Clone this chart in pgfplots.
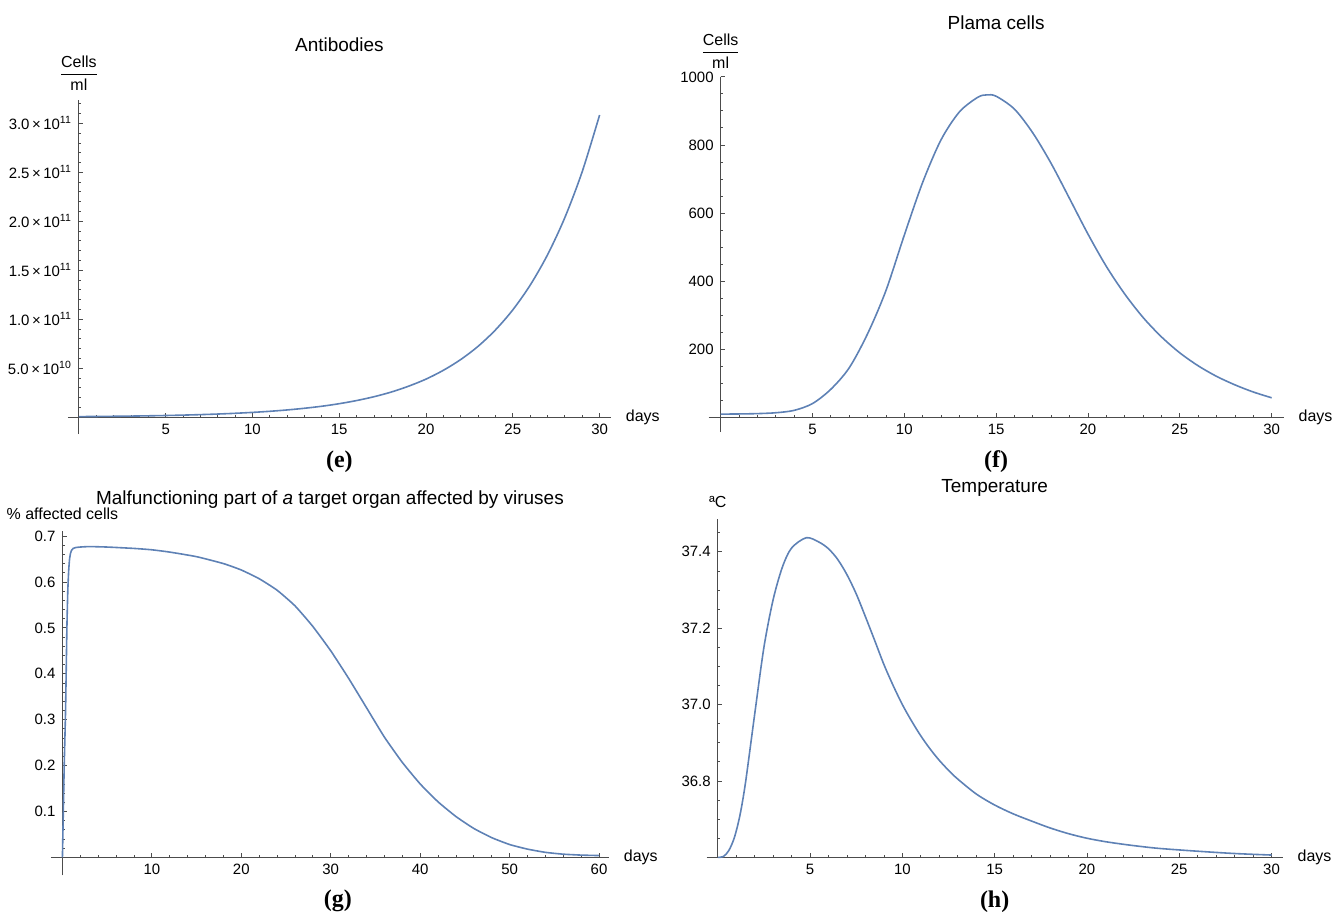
\documentclass[border=0pt]{standalone}
\usepackage{fontspec}
\usepackage{amsmath}
\usepackage{pgfplots}
\pgfplotsset{compat=1.18}
\setmainfont{Liberation Sans}
\newfontfamily\panelfont{Liberation Serif}

\definecolor{mmablue}{RGB}{94,129,181}

\pgfplotsset{
  mma/.style={
    scale only axis,
    anchor=south west,
    axis lines=middle,
    axis line style={-, black!70, line width=0.5pt},
    tick style={black!70, line width=0.4pt},
    tick align=inside,
    major tick length=2.2pt,
    minor tick length=1.3pt,
    ticklabel style={font=\fontsize{7.5}{8}\selectfont, text=black},
    /pgf/number format/assume math mode=true,
    /pgf/number format/1000 sep={},
    clip=false,
    title style={font=\fontsize{9.5}{10}\selectfont, anchor=center},
  },
  curve/.style={mmablue, line width=0.8pt, no markers},
}
\newcommand{\lbl}{\fontsize{8}{9}\selectfont}
\newcommand{\panel}[1]{\panelfont\bfseries\fontsize{12}{13}\selectfont(#1)}
\newcommand{\sci}[2]{\mbox{\fontsize{7.5}{8}\selectfont #1\,×\,10\textsuperscript{#2}}}

\begin{document}
\begin{tikzpicture}
\path (0,0) rectangle (669.5pt,459pt);

% (e) antibodies
\begin{axis}[mma,
  at={(34pt,241.5pt)}, width=272pt, height=167.5pt,
  xmin=-0.63, xmax=30.65, ymin=-0.173e11, ymax=3.24e11,
  xtick={5,10,...,30}, minor xtick={0,1,...,30},
  ytick={5e10,1e11,1.5e11,2e11,2.5e11,3e11},
  yticklabels={\sci{5.0}{10},\sci{1.0}{11},\sci{1.5}{11},\sci{2.0}{11},\sci{2.5}{11},\sci{3.0}{11}},
  minor ytick={1e10,2e10,3e10,4e10,6e10,7e10,8e10,9e10,1.1e11,1.2e11,1.3e11,1.4e11,1.6e11,1.7e11,1.8e11,1.9e11,2.1e11,2.2e11,2.3e11,2.4e11,2.6e11,2.7e11,2.8e11,2.9e11,3.1e11,3.2e11},
  scaled y ticks=false,
  title={Antibodies}, title style={at={(0.5,1)}, yshift=21.5pt},
]
\addplot[curve, smooth] table {
x y
0 0.062e10
1 0.076e10
2 0.094e10
3 0.115e10
4 0.142e10
5 0.174e10
6 0.214e10
7 0.264e10
8 0.324e10
9 0.399e10
10 0.491e10
11 0.603e10
12 0.742e10
13 0.913e10
14 1.12e10
15 1.38e10
16 1.70e10
17 2.09e10
18 2.57e10
19 3.17e10
20 3.89e10
21 4.79e10
22 5.89e10
23 7.24e10
24 8.91e10
25 1.096e11
26 1.348e11
27 1.658e11
28 2.039e11
29 2.508e11
30 3.085e11
};
\node[anchor=center, yshift=13.5pt] at (axis cs:0,3.24e11) {\lbl$\dfrac{\text{Cells}}{\text{ml}}$};
\node[anchor=west, xshift=4pt] at (axis cs:30.65,0) {\lbl days};
\node[anchor=center, inner sep=0pt, yshift=-14pt] at (axis description cs:0.5,0) {\panel{e}};
\end{axis}

% (f) plasma cells
\begin{axis}[mma,
  at={(355pt,242.5pt)}, width=288pt, height=178pt,
  xmin=-0.65, xmax=30.65, ymin=-44, ymax=1000,
  xtick={5,10,...,30}, minor xtick={0,1,...,30},
  ytick={200,400,...,1000}, minor ytick={50,100,...,1000},
  title={Plama cells}, title style={at={(0.5,1)}, yshift=21pt},
]
\addplot[curve, smooth] table {
x y
0 9
1 9.5
2 10.5
3 13
4 20
5 40
6 82
7 145
8 245
9 372
10 535
11 690
12 815
13 897
14 940
14.5 947
15 943
16 905
17 835
18 745
19 642
20 538
21 443
22 362
23 293
24 236
25 189
26 151
27 120
28 95
29 74
30 57
};
\node[anchor=center, yshift=13pt] at (axis cs:0,1000) {\lbl$\dfrac{\text{Cells}}{\text{ml}}$};
\node[anchor=west, xshift=4pt] at (axis cs:30.65,0) {\lbl days};
\node[anchor=center, inner sep=0pt, yshift=-15pt] at (axis description cs:0.5,0) {\panel{f}};
\end{axis}

% (g) malfunctioning part
\begin{axis}[mma,
  at={(25.5pt,20.5pt)}, width=279.5pt, height=172.5pt,
  xmin=-1.28, xmax=61.1, ymin=-0.039, ymax=0.711,
  xtick={10,20,...,60}, minor xtick={0,2,...,60},
  ytick={0.1,0.2,0.3,0.4,0.5,0.6,0.7},
  minor ytick={0.02,0.04,0.06,0.08,0.12,0.14,0.16,0.18,0.22,0.24,0.26,0.28,0.32,0.34,0.36,0.38,0.42,0.44,0.46,0.48,0.52,0.54,0.56,0.58,0.62,0.64,0.66,0.68,0.7},
  yticklabel style={/pgf/number format/.cd, fixed, precision=1},
  title={Malfunctioning part of \textit{a} target organ affected by viruses},
  title style={at={(0.5,1)}, yshift=9.5pt},
]
\addplot[curve, smooth, tension=0.3] table {
x y
0 0
0.1 0.10
0.2 0.20
0.35 0.32
0.5 0.50
0.6 0.58
0.7 0.625
0.8 0.65
0.9 0.662
1 0.668
1.2 0.673
1.5 0.675
2 0.676
3 0.677
5 0.676
8 0.673
10 0.670
12 0.665
15 0.655
18 0.640
20 0.626
22 0.607
24 0.582
26 0.548
28 0.503
30 0.450
32 0.390
34 0.326
36 0.262
38 0.207
40 0.160
42 0.121
44 0.089
46 0.063
48 0.043
50 0.028
52 0.018
54 0.011
56 0.007
58 0.005
60 0.004
};
\node[anchor=center, yshift=8.5pt] at (axis cs:0,0.711) {\lbl\% affected cells};
\node[anchor=west, xshift=4pt] at (axis cs:61.1,0) {\lbl days};
\node[anchor=center, inner sep=0pt, xshift=4pt, yshift=-13pt] at (axis description cs:0.5,0) {\panel{g}};
\end{axis}

% (h) temperature
\begin{axis}[mma,
  at={(354pt,29.5pt)}, width=288.5pt, height=169.5pt,
  xmin=-0.6, xmax=30.6, ymin=36.6, ymax=37.486,
  xtick={5,10,...,30}, minor xtick={0,1,...,30},
  ytick={36.8,37.0,37.2,37.4},
  minor ytick={36.65,36.7,36.75,36.85,36.9,36.95,37.05,37.1,37.15,37.25,37.3,37.35,37.45},
  yticklabel style={/pgf/number format/.cd, fixed, fixed zerofill, precision=1},
  title={Temperature}, title style={at={(0.5,1)}, yshift=9.5pt},
]
\addplot[curve, smooth] table {
x y
0 36.600
0.3 36.602
0.6 36.618
0.9 36.652
1.2 36.710
1.5 36.795
2 36.975
2.5 37.150
3 37.275
3.5 37.360
4 37.410
4.8 37.437
5.5 37.425
6 37.408
6.5 37.380
7 37.340
7.5 37.290
8 37.230
8.5 37.168
9 37.105
9.5 37.050
10 37.000
10.5 36.957
11 36.918
11.5 36.884
12 36.854
12.5 36.828
13 36.805
14 36.766
15 36.737
16 36.714
17 36.695
18 36.677
19 36.662
20 36.650
21 36.641
22 36.634
23 36.628
24 36.623
26 36.616
28 36.610
30 36.606
};
\node[anchor=center, yshift=8.5pt] at (axis cs:0,37.486) {\lbl ªC};
\node[anchor=west, xshift=4pt] at (axis cs:30.6,36.6) {\lbl days};
\node[anchor=center, inner sep=0pt, yshift=-22pt] at (axis description cs:0.5,0) {\panel{h}};
\end{axis}
\end{tikzpicture}
\end{document}
